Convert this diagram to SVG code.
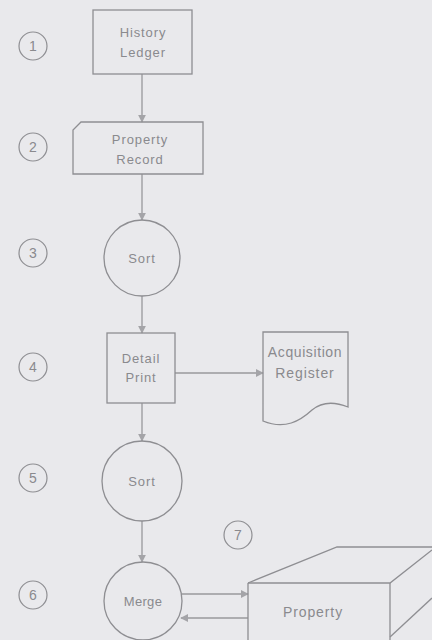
<svg xmlns="http://www.w3.org/2000/svg" width="432" height="640" viewBox="0 0 432 640">
  <defs>
    <marker id="arrow" viewBox="0 0 10 10" refX="9" refY="5" markerWidth="8" markerHeight="8" markerUnits="userSpaceOnUse" orient="auto">
      <path d="M0,0 L10,5 L0,10 z" fill="#a4a4a8"/>
    </marker>
    <style>
      .shape { fill: none; stroke: #8e8e92; stroke-width: 1.3; }
      .line { fill: none; stroke: #98989c; stroke-width: 1.3; marker-end: url(#arrow); }
      .label { font-family: "Liberation Sans", Arial, sans-serif; font-size: 13px; fill: #8a8a8e; text-anchor: middle; letter-spacing: 0.9px; }
      .num { font-family: "Liberation Sans", Arial, sans-serif; font-size: 14px; fill: #8a8a8e; text-anchor: middle; }
      .step { fill: none; stroke: #8e8e92; stroke-width: 1.2; }
    </style>
  </defs>

  <rect x="0" y="0" width="432" height="640" fill="#e9e9ec"/>

  <!-- step numbers -->
  <g id="step-numbers">
    <circle class="step" cx="33" cy="46" r="14"/><text class="num" x="33" y="51">1</text>
    <circle class="step" cx="33" cy="147" r="14"/><text class="num" x="33" y="152">2</text>
    <circle class="step" cx="33" cy="253" r="14"/><text class="num" x="33" y="258">3</text>
    <circle class="step" cx="33" cy="367" r="14"/><text class="num" x="33" y="372">4</text>
    <circle class="step" cx="33" cy="478" r="14"/><text class="num" x="33" y="483">5</text>
    <circle class="step" cx="33" cy="595" r="14"/><text class="num" x="33" y="600">6</text>
    <circle class="step" cx="238" cy="535" r="14"/><text class="num" x="238" y="540">7</text>
  </g>

  <!-- connectors -->
  <g id="connectors">
    <line class="line" x1="142" y1="74" x2="142" y2="122"/>
    <line class="line" x1="142" y1="174" x2="142" y2="220"/>
    <line class="line" x1="142" y1="296" x2="142" y2="333"/>
    <line class="line" x1="175" y1="373" x2="263" y2="373"/>
    <line class="line" x1="142" y1="403" x2="142" y2="441"/>
    <line class="line" x1="142" y1="521" x2="142" y2="562"/>
    <line class="line" x1="182" y1="594" x2="248" y2="594"/>
    <line class="line" x1="248" y1="618" x2="181" y2="618"/>
  </g>

  <g id="history-ledger">
    <rect class="shape" x="93" y="10" width="99" height="64"/>
    <text class="label" x="143" y="37">History</text>
    <text class="label" x="143" y="57">Ledger</text>
  </g>

  <g id="property-record">
    <path class="shape" d="M81,122 L203,122 L203,174 L73,174 L73,130 Z"/>
    <text class="label" x="140" y="144">Property</text>
    <text class="label" x="140" y="164">Record</text>
  </g>

  <g id="sort-1">
    <circle class="shape" cx="142" cy="258" r="38"/>
    <text class="label" x="142" y="263">Sort</text>
  </g>

  <g id="detail-print">
    <rect class="shape" x="107" y="333" width="68" height="70"/>
    <text class="label" x="141" y="363">Detail</text>
    <text class="label" x="141" y="382">Print</text>
  </g>

  <g id="acquisition-register">
    <path class="shape" d="M263,332 L348,332 L348,407 C338,403 324,400 312,410 C300,421 285,430 263,421 Z"/>
    <text class="label" x="305" y="357" style="font-size:14px;letter-spacing:0.6px">Acquisition</text>
    <text class="label" x="305" y="378" style="font-size:14px">Register</text>
  </g>

  <g id="sort-2">
    <circle class="shape" cx="142" cy="481" r="40"/>
    <text class="label" x="142" y="486">Sort</text>
  </g>

  <g id="merge">
    <circle class="shape" cx="143" cy="601" r="39"/>
    <text class="label" x="143" y="606" style="letter-spacing:0.3px">Merge</text>
  </g>

  <g id="property-file">
    <path class="shape" d="M248,583 L337,547 L432,547"/>
    <path class="shape" d="M248,583 L390,583 L432,550"/>
    <path class="shape" d="M248,583 L248,640"/>
    <path class="shape" d="M390,583 L390,640"/>
    <path class="shape" d="M390,637 L432,598"/>
    <text class="label" x="313" y="617" style="font-size:14px">Property</text>
  </g>
</svg>
